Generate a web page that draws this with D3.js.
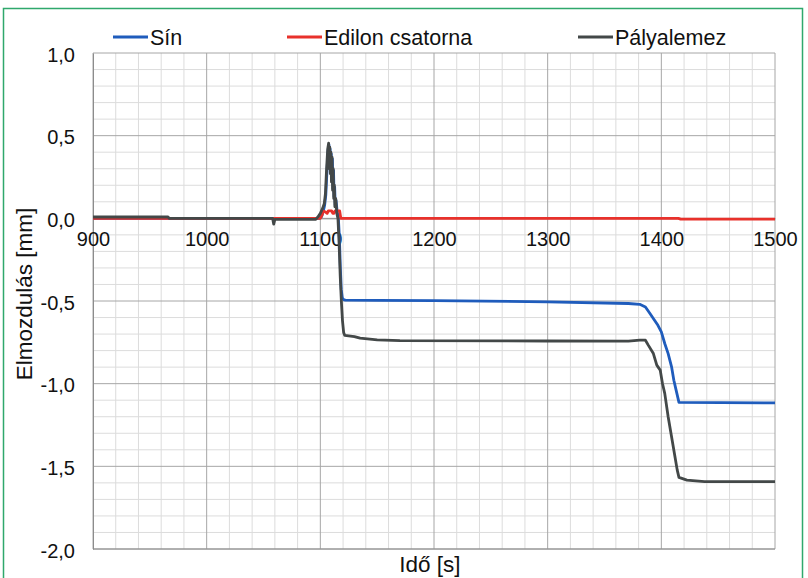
<!DOCTYPE html>
<html><head><meta charset="utf-8">
<script src="https://cdn.jsdelivr.net/npm/d3@7"></script>
<style>
body{margin:0;background:#fff;}
svg{display:block;font-family:"Liberation Sans",Arial,sans-serif;}
</style></head>
<body><svg id="c" width="808" height="578"></svg>
<script>
// ---- data ----
const seriesNames = ["Sín", "Edilon csatorna", "Pályalemez"];
const seriesColors = ["#1f5cbc", "#e8312b", "#434848"];
const xTicks = [900, 1000, 1100, 1200, 1300, 1400, 1500];
const yTicks = [1.0, 0.5, 0.0, -0.5, -1.0, -1.5, -2.0];

const sinT = [900, 966, 1060, 1096, 1099, 1101, 1102.5, 1103.8, 1104.8, 1105.8, 1106.8, 1107.6, 1108.1, 1108.6, 1109.1, 1109.6, 1110.1, 1110.6, 1111.1, 1111.6, 1112.1, 1112.6, 1113.1, 1113.8, 1114.8, 1115.8, 1116.8, 1117.6, 1118.4, 1119.3, 1120.5, 1122, 1150, 1200, 1300, 1371, 1381, 1386, 1390, 1394, 1397, 1400, 1403, 1406, 1409, 1411, 1413, 1415.5, 1500];
const sinV = [0.0, 0.0, 0.0, 0.0, 0.0, 0.01, 0.04, 0.08, 0.14, 0.28, 0.41, 0.445, 0.31, 0.42, 0.28, 0.39, 0.23, 0.36, 0.18, 0.29, 0.13, 0.19, 0.08, 0.11, 0.04, 0.01, -0.12, -0.3, -0.43, -0.48, -0.492, -0.495, -0.496, -0.498, -0.505, -0.515, -0.52, -0.536, -0.576, -0.616, -0.647, -0.687, -0.757, -0.818, -0.898, -0.979, -1.039, -1.113, -1.116];

const edilonT = [900, 1100, 1101.5, 1102.5, 1104, 1106, 1107, 1110, 1111, 1112, 1113, 1117, 1118, 1415, 1417, 1500];
const edilonV = [0.0, 0.0, 0.02, 0.045, 0.04, 0.03, 0.045, 0.045, 0.03, 0.03, 0.045, 0.045, 0.0, 0.0, -0.005, -0.005];

const palyaT = [900, 966, 967, 1058, 1059, 1060, 1096, 1098, 1100, 1102, 1103.5, 1104.5, 1105.5, 1106.5, 1107.3, 1107.8, 1108.3, 1108.8, 1109.3, 1109.8, 1110.3, 1110.8, 1111.3, 1111.8, 1112.3, 1112.8, 1113.5, 1114.5, 1115.5, 1116.5, 1117.5, 1118.5, 1119.5, 1120.5, 1121.5, 1130, 1135, 1150, 1170, 1300, 1371, 1381, 1386, 1388.5, 1393, 1396, 1399, 1401, 1403, 1406, 1409, 1412, 1414, 1415.5, 1422.5, 1438, 1500];
const palyaV = [0.008, 0.008, 0.0, 0.0, -0.035, -0.006, -0.006, 0.01, 0.03, 0.06, 0.09, 0.15, 0.3, 0.42, 0.455, 0.3, 0.43, 0.27, 0.4, 0.22, 0.37, 0.17, 0.3, 0.12, 0.2, 0.07, 0.12, 0.03, 0.0, -0.15, -0.35, -0.5, -0.62, -0.69, -0.708, -0.715, -0.725, -0.735, -0.74, -0.742, -0.743, -0.737, -0.737, -0.767, -0.818, -0.888, -0.918, -0.999, -1.059, -1.2, -1.321, -1.442, -1.523, -1.567, -1.583, -1.593, -1.593];

// ---- chart ----
const svg = d3.select("#c");
const L = 93, R = 775, T = 53, B = 549;
const x = d3.scaleLinear().domain([900, 1500]).range([L, R]);
const y = d3.scaleLinear().domain([-2, 1]).range([B, T]);
const fmt = v => d3.format(".1f")(v).replace(".", ",").replace("−", "-");
const FF = "Liberation Sans, Arial, sans-serif";

// outer green frame
svg.append("rect").attr("x", 3.5).attr("y", 8.5).attr("width", 799).attr("height", 580)
  .attr("fill", "none").attr("stroke", "#2fa86c").attr("stroke-width", 1.5);

// minor grid
const gMinor = svg.append("g").attr("stroke", "#dcdcdc").attr("stroke-width", 1);
d3.range(900, 1501, 20).filter(v => v % 100 !== 0).forEach(v => {
  gMinor.append("line").attr("x1", x(v)).attr("x2", x(v)).attr("y1", T).attr("y2", B);
});
d3.range(-20, 11, 1).filter(v => v % 5 !== 0).forEach(k => {
  gMinor.append("line").attr("x1", L).attr("x2", R).attr("y1", y(k / 10)).attr("y2", y(k / 10));
});
// major grid
const gMajor = svg.append("g").attr("stroke", "#a6a6a6").attr("stroke-width", 1);
xTicks.forEach(v => gMajor.append("line").attr("x1", x(v)).attr("x2", x(v)).attr("y1", T).attr("y2", B));
yTicks.forEach(v => gMajor.append("line").attr("x1", L).attr("x2", R).attr("y1", y(v)).attr("y2", y(v)));

// axes
const yAxis = svg.append("g").attr("transform", `translate(${L},0)`)
  .call(d3.axisLeft(y).tickValues(yTicks).tickFormat(fmt).tickSize(0).tickPadding(18));
yAxis.select(".domain").attr("stroke", "#8c8c8c");
yAxis.selectAll("text").attr("font-size", 20).attr("fill", "#111").attr("font-family", FF)
  .attr("dy", "0.4em");

const xAxis = svg.append("g").attr("transform", `translate(0,${y(0)})`)
  .call(d3.axisBottom(x).tickValues(xTicks).tickFormat(d3.format("d")).tickSize(0).tickPadding(13));
xAxis.select(".domain").attr("stroke", "#8c8c8c");
xAxis.selectAll("text").attr("font-size", 20).attr("fill", "#111").attr("font-family", FF);

svg.append("line").attr("x1", L).attr("x2", R).attr("y1", B).attr("y2", B).attr("stroke", "#8c8c8c");

// series
const line = d3.line().x(d => x(d[0])).y(d => y(d[1]));
const data = [
  d3.zip(sinT, sinV),
  d3.zip(edilonT, edilonV),
  d3.zip(palyaT, palyaV)
];
[0, 1, 2].forEach(i => {
  svg.append("path").datum(data[i]).attr("d", line)
    .attr("fill", "none").attr("stroke", seriesColors[i]).attr("stroke-width", 2.8)
    .attr("stroke-linejoin", "round");
});

// legend
const legX = [113, 287, 578];
seriesNames.forEach((n, i) => {
  svg.append("line").attr("x1", legX[i]).attr("x2", legX[i] + 35).attr("y1", 37).attr("y2", 37)
    .attr("stroke", seriesColors[i]).attr("stroke-width", 2.8);
  svg.append("text").attr("x", legX[i] + 37).attr("y", 45).attr("font-size", 21.5).attr("fill", "#111").text(n);
});

// titles
svg.append("text").attr("transform", "translate(32,294) rotate(-90)").attr("text-anchor", "middle")
  .attr("font-size", 22.5).attr("fill", "#111").text("Elmozdulás [mm]");
svg.append("text").attr("x", 430).attr("y", 572).attr("text-anchor", "middle")
  .attr("font-size", 22.5).attr("fill", "#111").text("Idő [s]");
</script></body></html>
